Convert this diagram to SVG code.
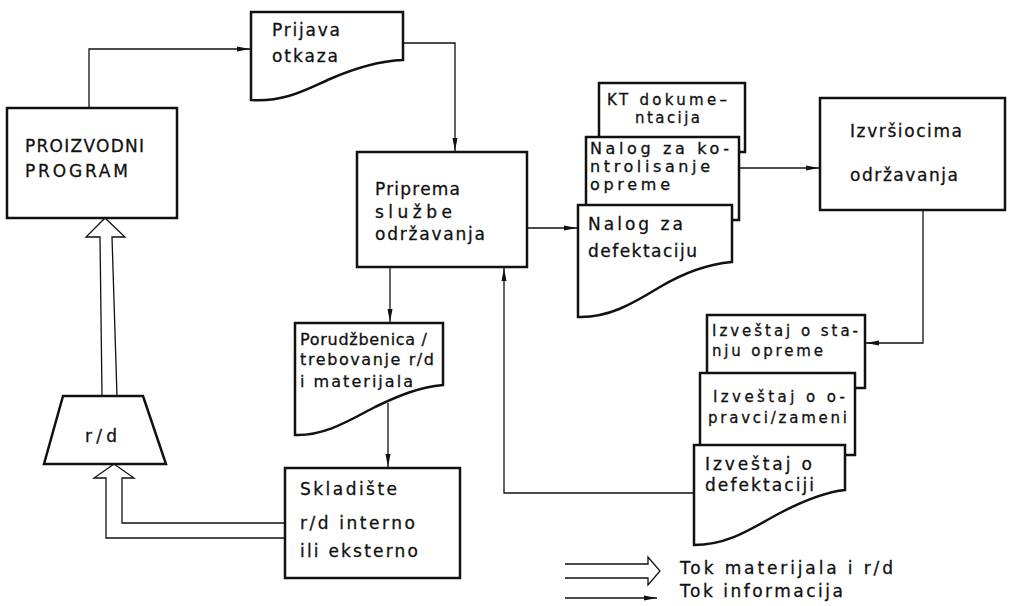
<svg xmlns="http://www.w3.org/2000/svg" width="1012" height="606" viewBox="0 0 1012 606">
<style>
.box{fill:#fff;stroke:#111;stroke-width:2.5;stroke-linejoin:miter}
.con{fill:none;stroke:#111;stroke-width:1.3}
.hol{fill:#fff;stroke:#111;stroke-width:1.3;stroke-linejoin:miter}
text{font-family:"DejaVu Sans","Liberation Sans",sans-serif;font-size:17px;fill:#111;stroke:#111;stroke-width:0.3}
.sm{font-size:16px}
.xs{font-size:15px}
</style>
<defs>
<marker id="ah" markerUnits="userSpaceOnUse" markerWidth="13" markerHeight="7" refX="13" refY="3.5" orient="auto">
<path d="M0,1 L13,3.5 L0,6 z" fill="#111"/>
</marker>
</defs>
<rect width="1012" height="606" fill="#fff"/>

<g id="connectors">
<path class="con" d="M89,108 V49 H250" marker-end="url(#ah)"/>
<path class="con" d="M403,43 H455 V151" marker-end="url(#ah)"/>
<path class="con" d="M527,228 H577" marker-end="url(#ah)"/>
<path class="con" d="M739,168 H819" marker-end="url(#ah)"/>
<path class="con" d="M923,210 V343 H866" marker-end="url(#ah)"/>
<path class="con" d="M694,493 H504 V268" marker-end="url(#ah)"/>
<path class="con" d="M390,267 V322" marker-end="url(#ah)"/>
<path class="con" d="M388,403 V467" marker-end="url(#ah)"/>
<path class="hol" d="M285,538 H106 V478 H94 L114,464 L134,478 H122 V523 H285"/>
<path class="hol" d="M102,396 L100,237 H86 L105,218 L125,237 H112 L117,396"/>
</g>

<g id="proizvodni-program">
<rect class="box" x="7" y="108" width="170" height="110"/>
<text x="25" y="152" textLength="119" lengthAdjust="spacing">PROIZVODNI</text>
<text x="25" y="177" textLength="103" lengthAdjust="spacing">PROGRAM</text>
</g>

<g id="prijava-otkaza">
<path class="box" d="M251,12 H403 V60 C380,61 355,68 330,79 C305,90 285,102 251,100 Z"/>
<text x="272" y="36" textLength="68" lengthAdjust="spacing">Prijava</text>
<text x="272" y="62" textLength="66" lengthAdjust="spacing">otkaza</text>
</g>

<g id="priprema">
<rect class="box" x="357" y="152" width="170" height="115"/>
<text x="375" y="195" textLength="85" lengthAdjust="spacing">Priprema</text>
<text x="375" y="218" textLength="77" lengthAdjust="spacing">službe</text>
<text x="375" y="240" textLength="110" lengthAdjust="spacing">održavanja</text>
</g>

<g id="kt-dokumentacija">
<rect class="box" x="599" y="83" width="146" height="69"/>
<text class="xs" x="607" y="105" textLength="120" lengthAdjust="spacing">KT dokume–</text>
<text class="xs" x="635" y="123" textLength="65" lengthAdjust="spacing">ntacija</text>
</g>

<g id="nalog-kontrolisanje">
<rect class="box" x="586" y="137" width="153" height="83"/>
<text class="sm" x="590" y="154" textLength="139" lengthAdjust="spacing">Nalog za ko-</text>
<text class="sm" x="590" y="172" textLength="120" lengthAdjust="spacing">ntrolisanje</text>
<text class="sm" x="590" y="190" textLength="80" lengthAdjust="spacing">opreme</text>
</g>

<g id="nalog-defektacija">
<path class="box" d="M578,205 H732 V262 C710,264 685,272 660,287 C635,302 610,318 578,317 Z"/>
<text x="588" y="230" textLength="95" lengthAdjust="spacing">Nalog za</text>
<text x="588" y="257" textLength="109" lengthAdjust="spacing">defektaciju</text>
</g>

<g id="izvrsiocima">
<rect class="box" x="820" y="98" width="185" height="112"/>
<text x="850" y="137" textLength="112" lengthAdjust="spacing">Izvršiocima</text>
<text x="850" y="181" textLength="108" lengthAdjust="spacing">održavanja</text>
</g>

<g id="porudzbenica">
<path class="box" d="M295,323 H443 V385 C420,387 400,395 375,407 C350,420 325,436 295,435 Z"/>
<text class="sm" x="300" y="345" textLength="127" lengthAdjust="spacing">Porudžbenica /</text>
<text class="sm" x="300" y="365" textLength="134" lengthAdjust="spacing">trebovanje r/d</text>
<text class="sm" x="300" y="387" textLength="113" lengthAdjust="spacing">i materijala</text>
</g>

<g id="skladiste">
<rect class="box" x="285" y="468" width="175" height="110"/>
<text x="300" y="495" textLength="97" lengthAdjust="spacing">Skladište</text>
<text x="300" y="529" textLength="115" lengthAdjust="spacing">r/d interno</text>
<text x="300" y="557" textLength="118" lengthAdjust="spacing">ili eksterno</text>
</g>

<g id="rd">
<path class="box" d="M63,396 H143 L166,464 H44 Z"/>
<text x="85" y="442" textLength="32" lengthAdjust="spacing">r/d</text>
</g>

<g id="izvestaj-stanje">
<rect class="box" x="707" y="315" width="158" height="73"/>
<text class="xs" x="712" y="336" textLength="146" lengthAdjust="spacing">Izveštaj o sta-</text>
<text class="xs" x="712" y="356" textLength="111" lengthAdjust="spacing">nju opreme</text>
</g>

<g id="izvestaj-opravka">
<rect class="box" x="700" y="373" width="155" height="82"/>
<text class="xs" x="713" y="402" textLength="132" lengthAdjust="spacing">Izveštaj o o-</text>
<text class="xs" x="708" y="423" textLength="139" lengthAdjust="spacing">pravci/zameni</text>
</g>

<g id="izvestaj-defektacija">
<path class="box" d="M694,445 H845 V490 C825,492 805,500 780,513 C755,526 730,545 694,545 Z"/>
<text x="705" y="470" textLength="107" lengthAdjust="spacing">Izveštaj o</text>
<text x="705" y="491" textLength="109" lengthAdjust="spacing">defektaciji</text>
</g>

<g id="legend">
<path class="con" d="M565,564 H648 V557 L660,571 L648,585 V578 H565"/>
<path class="con" d="M565,598 H657" marker-end="url(#ah)"/>
<text x="680" y="574" textLength="213" lengthAdjust="spacing">Tok materijala i r/d</text>
<text x="680" y="597" textLength="163" lengthAdjust="spacing">Tok informacija</text>
</g>
</svg>
